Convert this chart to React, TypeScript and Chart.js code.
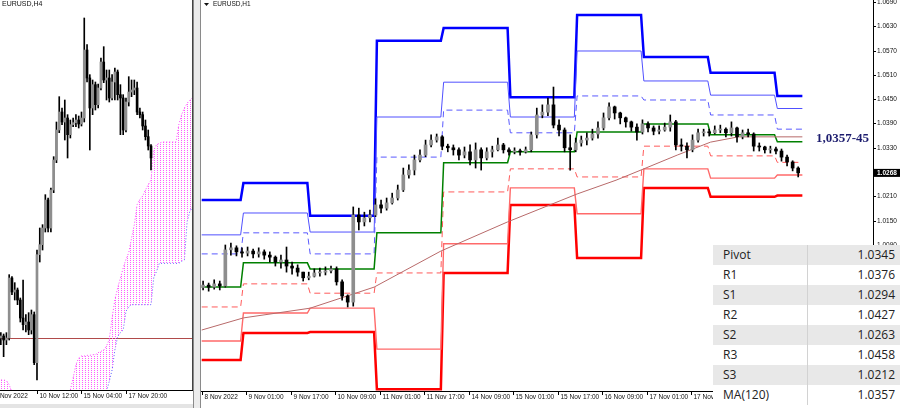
import React, { useEffect, useRef } from "react";
import { Chart, registerables } from "chart.js";

Chart.register(...registerables);

// ================= H1 chart (right panel) =================
const h1Title = "EURUSD,H1";
const h1CandleBars = 2; // each drawn candle spans two H1 bars
const h1FirstOpen = 0.9985;
const h1Close = [
  0.9991, 0.9986, 0.9994, 0.9989, 1.0078, 1.0083, 1.0073, 1.007, 1.0075, 1.0068,
  1.0073, 1.0065, 1.006, 1.0048, 1.0053, 1.0038, 1.0033, 1.0023, 1.0009, 1.0013,
  1.0021, 1.0023, 1.0026, 1.0031, 0.9999, 0.9964, 0.9949, 1.0164, 1.0147, 1.0157,
  1.0164, 1.0189, 1.0181, 1.0194, 1.0206, 1.0226, 1.0263, 1.0275, 1.03, 1.0312,
  1.0337, 1.0349, 1.0357, 1.0334, 1.033, 1.0325, 1.0312, 1.032, 1.03, 1.0325,
  1.0305, 1.032, 1.0325, 1.0337, 1.0325, 1.032, 1.0322, 1.032, 1.0325, 1.0362,
  1.0411, 1.0418, 1.0436, 1.0386, 1.0374, 1.033, 1.0325, 1.0342, 1.0349, 1.0354,
  1.0364, 1.0379, 1.0404, 1.0431, 1.0416, 1.0404, 1.0394, 1.0381, 1.0369, 1.0389,
  1.0379, 1.0371, 1.0374, 1.0381, 1.0394, 1.0337, 1.0334, 1.0325, 1.0349, 1.0367,
  1.0369, 1.0367, 1.0374, 1.0376, 1.0367, 1.0379, 1.0357, 1.0367, 1.0364, 1.0334,
  1.0332, 1.0325, 1.0327, 1.0322, 1.0307, 1.0295, 1.028, 1.0268,
];
const h1High = [
  1.0001, 0.9996, 1.0004, 1.0001, 1.009, 1.0095, 1.0088, 1.0083, 1.0085, 1.008,
  1.0083, 1.0078, 1.0073, 1.0063, 1.0065, 1.0085, 1.0048, 1.0041, 1.0023, 1.0023,
  1.0031, 1.0033, 1.0036, 1.0038, 1.0036, 1.0004, 0.9967, 1.0184, 1.0181, 1.0171,
  1.0176, 1.0204, 1.0201, 1.0206, 1.0218, 1.0238, 1.028, 1.0288, 1.0312, 1.0325,
  1.0349, 1.0362, 1.0364, 1.036, 1.0339, 1.0337, 1.033, 1.0332, 1.0337, 1.0342,
  1.033, 1.033, 1.0334, 1.0354, 1.0341, 1.033, 1.033, 1.0327, 1.0332, 1.0369,
  1.0428, 1.0436, 1.0453, 1.048, 1.0399, 1.0379, 1.0362, 1.0354, 1.0359, 1.0367,
  1.0376, 1.0394, 1.0416, 1.0441, 1.0433, 1.0418, 1.0406, 1.0396, 1.0389, 1.0399,
  1.0394, 1.0384, 1.0384, 1.0391, 1.0411, 1.0398, 1.0352, 1.0342, 1.0362, 1.0376,
  1.0376, 1.0376, 1.0384, 1.0386, 1.0379, 1.0394, 1.0381, 1.0374, 1.0376, 1.0367,
  1.0342, 1.0334, 1.0334, 1.0332, 1.0327, 1.0312, 1.0298, 1.0283,
];
const h1Low = [
  0.9979, 0.9976, 0.9981, 0.9979, 0.9986, 1.0065, 1.0063, 1.006, 1.0063, 1.0058,
  1.006, 1.0055, 1.0048, 1.0038, 1.0033, 1.0023, 1.0018, 1.0013, 1.0001, 1.0004,
  1.0011, 1.0013, 1.0016, 1.0021, 0.9991, 0.9954, 0.9937, 0.9939, 1.0127, 1.0137,
  1.0147, 1.016, 1.0169, 1.0176, 1.0191, 1.0201, 1.0222, 1.0255, 1.0263, 1.0295,
  1.0308, 1.0332, 1.0344, 1.0325, 1.032, 1.0312, 1.03, 1.0305, 1.0288, 1.028,
  1.0275, 1.03, 1.0307, 1.0322, 1.0317, 1.0312, 1.0315, 1.0312, 1.0317, 1.032,
  1.0354, 1.0404, 1.0409, 1.0379, 1.0359, 1.032, 1.0275, 1.032, 1.0334, 1.0337,
  1.0349, 1.0354, 1.0374, 1.0399, 1.0401, 1.0389, 1.0381, 1.0371, 1.0349, 1.0364,
  1.0369, 1.0362, 1.0364, 1.0371, 1.0371, 1.0325, 1.0322, 1.0305, 1.032, 1.0344,
  1.0359, 1.0359, 1.0364, 1.0367, 1.0357, 1.0359, 1.0344, 1.0352, 1.0357, 1.0322,
  1.0322, 1.0317, 1.0317, 1.0315, 1.0297, 1.0285, 1.0273, 1.0258,
];

// daily pivot levels (one value per trading day)
const dayStartBar = [0, 15, 39, 63, 87, 111, 135, 159, 183, 207];
const lastBar = 216;
const levelR3 = [1.0201, 1.0243, 1.0162, 1.0594, 1.0626, 1.0455, 1.0658, 1.0554, 1.0515, 1.0458];
const levelR2 = [1.0115, 1.0169, 1.0122, 1.0406, 1.0492, 1.0406, 1.0569, 1.0495, 1.046, 1.0427];
const levelR1 = [1.0068, 1.012, 1.0068, 1.0307, 1.0423, 1.0367, 1.0458, 1.0448, 1.0411, 1.0376];
const levelPivot = [0.9986, 1.0046, 1.0031, 1.012, 1.0293, 1.032, 1.0369, 1.0389, 1.0362, 1.0345];
const levelS1 = [0.9937, 0.9994, 0.9971, 1.0021, 1.0221, 1.0278, 1.0258, 1.0334, 1.031, 1.0294];
const levelS2 = [0.9853, 0.9922, 0.9934, 0.9833, 1.0093, 1.0231, 1.0167, 1.0278, 1.0255, 1.0263];
const levelS3 = [0.9806, 0.9873, 0.9875, 0.9734, 1.0021, 1.0189, 1.0058, 1.0231, 1.0209, 1.0212];

// MA(120)
const maBar = [0, 15, 39, 62, 86, 110, 135, 149, 159, 171, 183, 193, 206, 216];
const maValue = [0.988, 0.991, 0.9934, 0.9986, 1.0075, 1.0147, 1.0216, 1.025, 1.0278, 1.0312, 1.0344, 1.0357, 1.0357, 1.0357];

const h1TickBars = [0, 16, 32, 48, 64, 80, 96, 112, 128, 144, 160, 176, 192, 208];
const h1TickLabels = [
  "8 Nov 2022", "9 Nov 01:00", "9 Nov 17:00", "10 Nov 09:00", "11 Nov 01:00",
  "11 Nov 17:00", "14 Nov 09:00", "15 Nov 01:00", "15 Nov 17:00", "16 Nov 09:00",
  "17 Nov 01:00", "17 Nov 17:00", "18 Nov 09:00", "21 Nov 01:00",
];
const h1PriceTicks = [
  0.979, 0.985, 0.991, 0.997, 1.003, 1.009, 1.015, 1.021, 1.027, 1.033, 1.039,
  1.045, 1.051, 1.057, 1.063, 1.069,
];
const currentPrice = 1.0268;
const levelNote = "1,0357-45";
const levelNotePrice = 1.0357;

// table
const tableLabels = ["Pivot", "R1", "S1", "R2", "S2", "R3", "S3", "MA(120)"];
const tableValues = ["1.0345", "1.0376", "1.0294", "1.0427", "1.0263", "1.0458", "1.0212", "1.0357"];

// ================= H4 chart (left panel) =================
const h4Title = "EURUSD,H4";
const h4FirstBar = 3;
const h4FirstOpen = 1.0;
const h4Close = [
  1.0003, 0.9997, 1.0, 1.009, 1.0069, 1.0072, 1.0057, 1.003, 1.002, 1.0024,
  1.0012, 1.0035, 0.9963, 1.0125, 1.014, 1.0165, 1.0207, 1.0165, 1.0222, 1.0267,
  1.0312, 1.0339, 1.0324, 1.033, 1.0305, 1.032, 1.0323, 1.0327, 1.0321, 1.033,
  1.0432, 1.039, 1.0345, 1.038, 1.035, 1.0375, 1.0414, 1.0387, 1.039, 1.036,
  1.0384, 1.0399, 1.0365, 1.036, 1.0312, 1.0354, 1.0369, 1.0372, 1.0375, 1.0339,
  1.0335, 1.0318, 1.0302, 1.0288, 1.027,
];
const h4High = [
  1.0008, 1.0006, 1.0008, 1.0095, 1.0092, 1.0083, 1.0075, 1.006, 1.0087, 1.0035,
  1.0038, 1.0042, 1.0039, 1.0132, 1.0165, 1.017, 1.0215, 1.021, 1.0225, 1.0272,
  1.0324, 1.0362, 1.0345, 1.0357, 1.0335, 1.0327, 1.033, 1.0335, 1.0333, 1.0339,
  1.048, 1.044, 1.0395, 1.0387, 1.0384, 1.0381, 1.042, 1.0437, 1.0402, 1.0402,
  1.0395, 1.0405, 1.0402, 1.038, 1.0365, 1.036, 1.0392, 1.0387, 1.0387, 1.0384,
  1.0345, 1.0339, 1.0327, 1.0312, 1.029,
];
const h4Low = [
  0.999, 0.9972, 0.999, 0.9997, 1.0065, 1.0057, 1.005, 1.0024, 1.0012, 1.0009,
  1.0005, 1.0006, 0.996, 0.9937, 1.0114, 1.0132, 1.0159, 1.0159, 1.0159, 1.0218,
  1.0263, 1.0308, 1.032, 1.0297, 1.027, 1.03, 1.0317, 1.0317, 1.0315, 1.0318,
  1.0324, 1.0384, 1.0282, 1.0335, 1.0342, 1.0345, 1.0372, 1.0383, 1.0357, 1.0354,
  1.0357, 1.0357, 1.0357, 1.0305, 1.0305, 1.0309, 1.0348, 1.0362, 1.0365, 1.0335,
  1.033, 1.0312, 1.0297, 1.0282, 1.0252,
];
const h4TickBars = [0, 16, 32, 48];
const h4TickLabels = ["8 Nov 2022", "10 Nov 12:00", "15 Nov 04:00", "17 Nov 20:00"];
const parityLevel = 1.0;

// Ichimoku cloud (spans A / B), values from bar index start
const cloudSmallStart = 0;
const cloudSmallA = [0.9937, 0.9937, 0.9937, 0.9937, 0.9937, 0.9936, 0.993, 0.9918, 0.99];
const cloudSmallB = [0.988, 0.988, 0.988, 0.988, 0.988, 0.988, 0.988, 0.988, 0.988];
const cloudMainStart = 27;
const cloudMainA = [
  0.99, 0.9922, 0.994, 0.996, 0.997, 0.9973, 0.9973, 0.9974, 0.9974, 0.9975,
  0.9975, 0.9978, 0.998, 0.9982, 0.9988, 0.9998, 1.003, 1.0057, 1.0075, 1.009,
  1.0105, 1.0118, 1.0128, 1.015, 1.017, 1.02, 1.0208, 1.0213, 1.0222, 1.023,
  1.0237, 1.0282, 1.029, 1.0292, 1.0294, 1.0294, 1.0294, 1.0294, 1.0294, 1.0294,
  1.032, 1.0335, 1.0345, 1.0352, 1.0357, 1.0361, 1.0361,
];
const cloudMainB = [
  0.988, 0.988, 0.988, 0.988, 0.988, 0.988, 0.988, 0.988, 0.988, 0.988,
  0.988, 0.988, 0.988, 0.988, 0.992, 0.9935, 0.9952, 0.9982, 1.0002, 1.0008,
  1.0012, 1.004, 1.0047, 1.005, 1.005, 1.005, 1.005, 1.005, 1.005, 1.005,
  1.005, 1.0091, 1.01, 1.0112, 1.0112, 1.0112, 1.0112, 1.0112, 1.0112, 1.0112,
  1.0112, 1.0115, 1.0117, 1.0175, 1.019, 1.0197, 1.0197,
];

// ================= helpers =================
const BULL = "#8e8e8e";
const BEAR = "#000000";
const AXIS_FONT = '6.5px "Liberation Sans", Arial, sans-serif';

function buildCandles(firstX: number, step: number, firstOpen: number, close: number[], high: number[], low: number[]) {
  const bodies: any[] = [];
  const wicks: any[] = [];
  const colors: string[] = [];
  close.forEach((c, i) => {
    const o = i === 0 ? firstOpen : close[i - 1];
    const x = firstX + i * step;
    bodies.push({ x, y: [o, c] });
    wicks.push({ x, y: [low[i], high[i]] });
    colors.push(c >= o ? BULL : BEAR);
  });
  return { bodies, wicks, colors };
}

function stepLine(levels: number[]) {
  const pts: any[] = [];
  levels.forEach((v, d) => {
    const start = dayStartBar[d];
    const end = d + 1 < dayStartBar.length ? dayStartBar[d + 1] - 1 : lastBar;
    pts.push({ x: start, y: v }, { x: end, y: v });
  });
  return pts;
}

function series(start: number, values: number[]) {
  return values.map((v, i) => ({ x: start + i, y: v }));
}

function lineDs(data: any[], color: string, width: number, dash: number[] = []) {
  return {
    type: "line",
    data,
    borderColor: color,
    borderWidth: width,
    borderDash: dash,
    pointRadius: 0,
    tension: 0,
    fill: false,
    order: 1,
  };
}

function xAxisPlugin(tickBars: number[], tickLabels: string[]) {
  return {
    id: "mtXAxis",
    afterDraw(chart: any) {
      const { ctx, chartArea: a, scales } = chart;
      const x = scales.x;
      ctx.save();
      ctx.strokeStyle = "#000";
      ctx.lineWidth = 1;
      ctx.beginPath();
      ctx.moveTo(a.left, a.bottom + 0.5);
      ctx.lineTo(a.right, a.bottom + 0.5);
      ctx.stroke();
      ctx.font = AXIS_FONT;
      ctx.fillStyle = "#111";
      ctx.textAlign = "left";
      ctx.textBaseline = "top";
      tickBars.forEach((b, i) => {
        const px = Math.round(x.getPixelForValue(b)) + 0.5;
        ctx.beginPath();
        ctx.moveTo(px, a.bottom);
        ctx.lineTo(px, a.bottom + 4);
        ctx.stroke();
        ctx.fillText(tickLabels[i], px + 2, a.bottom + 3);
      });
      ctx.restore();
    },
  };
}

export default function App() {
  const leftRef = useRef<HTMLCanvasElement>(null);
  const rightRef = useRef<HTMLCanvasElement>(null);

  useEffect(() => {
    // ---------- left (H4) ----------
    const pc = document.createElement("canvas");
    pc.width = 3;
    pc.height = 2;
    const pctx = pc.getContext("2d")!;
    pctx.fillStyle = "#ff5cff";
    pctx.fillRect(1, 0, 1, 1);
    const lctx = leftRef.current!.getContext("2d")!;
    const cloudPattern = lctx.createPattern(pc, "repeat");

    const h4 = buildCandles(h4FirstBar, 1, h4FirstOpen, h4Close, h4High, h4Low);

    const leftDecor = {
      id: "leftDecor",
      beforeDatasetsDraw(chart: any) {
        const { ctx, chartArea: a, scales } = chart;
        const py = Math.round(scales.y.getPixelForValue(parityLevel)) + 0.5;
        ctx.save();
        ctx.strokeStyle = "#b04a4a";
        ctx.lineWidth = 1;
        ctx.beginPath();
        ctx.moveTo(a.left, py);
        ctx.lineTo(a.right, py);
        ctx.stroke();
        ctx.restore();
      },
      afterDraw(chart: any) {
        const { ctx, chartArea: a } = chart;
        ctx.save();
        ctx.font = '7px "Liberation Sans", Arial, sans-serif';
        ctx.fillStyle = "#111";
        ctx.textBaseline = "top";
        ctx.textAlign = "left";
        ctx.fillText(h4Title, 2, 1);
        ctx.strokeStyle = "#444";
        ctx.beginPath();
        ctx.moveTo(a.right - 0.5, 0);
        ctx.lineTo(a.right - 0.5, a.bottom + 1);
        ctx.stroke();
        ctx.restore();
      },
    };

    const left = new Chart(leftRef.current!, {
      type: "bar",
      data: {
        datasets: [
          { type: "bar", data: h4.bodies, backgroundColor: h4.colors, barThickness: 2, grouped: false, minBarLength: 1, order: 0 },
          { type: "bar", data: h4.wicks, backgroundColor: "#000", barThickness: 1, grouped: false, order: 0 },
          {
            ...lineDs(series(cloudMainStart, cloudMainA), "#ff40ff", 1, [1, 2]),
            fill: "+1",
            backgroundColor: cloudPattern,
            order: 2,
          },
          { ...lineDs(series(cloudMainStart, cloudMainB), "#5a5aff", 1, [1, 2]), order: 2 },
          {
            ...lineDs(series(cloudSmallStart, cloudSmallA), "#ff40ff", 1, [1, 2]),
            fill: "+1",
            backgroundColor: cloudPattern,
            order: 2,
          },
          { ...lineDs(series(cloudSmallStart, cloudSmallB), "#5a5aff", 1, [1, 2]), order: 2 },
        ] as any,
      },
      options: {
        responsive: false,
        animation: false,
        events: [],
        layout: { padding: { left: 0, right: 0, top: 0, bottom: 18 } },
        scales: {
          x: { type: "linear", min: 2.7, max: 72.1, display: false, offset: false },
          y: { type: "linear", min: 0.9922, max: 1.0507, display: false },
        },
        plugins: { legend: { display: false }, tooltip: { enabled: false } },
      } as any,
      plugins: [leftDecor, xAxisPlugin(h4TickBars, h4TickLabels)],
    });

    // ---------- right (H1) ----------
    const h1 = buildCandles(0.5, h1CandleBars, h1FirstOpen, h1Close, h1High, h1Low);
    const maData = maBar.map((b, i) => ({ x: b, y: maValue[i] }));

    const rightDecor = {
      id: "rightDecor",
      afterDraw(chart: any) {
        const { ctx, chartArea: a, scales } = chart;
        const y = scales.y;
        ctx.save();
        // price axis
        ctx.strokeStyle = "#000";
        ctx.lineWidth = 1;
        ctx.beginPath();
        ctx.moveTo(a.right + 0.5, 0);
        ctx.lineTo(a.right + 0.5, a.bottom + 1);
        ctx.stroke();
        ctx.font = AXIS_FONT;
        ctx.fillStyle = "#111";
        ctx.textAlign = "left";
        ctx.textBaseline = "middle";
        h1PriceTicks.forEach((p) => {
          const py = Math.round(y.getPixelForValue(p)) + 0.5;
          ctx.beginPath();
          ctx.moveTo(a.right, py);
          ctx.lineTo(a.right + 3, py);
          ctx.stroke();
          ctx.fillText(p.toFixed(4), a.right + 4, py);
        });
        // current price box
        const cy = y.getPixelForValue(currentPrice);
        ctx.fillStyle = "#000";
        ctx.fillRect(a.right + 1, cy - 4, 26, 8);
        ctx.fillStyle = "#fff";
        ctx.font = 'bold 6.5px "Liberation Sans", Arial, sans-serif';
        ctx.fillText(currentPrice.toFixed(4), a.right + 4, cy + 0.5);
        // title
        ctx.fillStyle = "#111";
        ctx.beginPath();
        ctx.moveTo(3, 3);
        ctx.lineTo(8, 3);
        ctx.lineTo(5.5, 6);
        ctx.closePath();
        ctx.fill();
        ctx.font = AXIS_FONT;
        ctx.textBaseline = "top";
        ctx.fillText(h1Title, 12, 1);
        // level note
        ctx.font = 'bold 13px "Liberation Serif", "Times New Roman", serif';
        ctx.fillStyle = "#1c1c6e";
        ctx.textBaseline = "middle";
        ctx.fillText(levelNote, a.right - 57, y.getPixelForValue(levelNotePrice) + 2);
        ctx.restore();
      },
    };

    const right = new Chart(rightRef.current!, {
      type: "bar",
      data: {
        datasets: [
          { type: "bar", data: h1.bodies, backgroundColor: h1.colors, barThickness: 3, grouped: false, minBarLength: 1, order: 0 },
          { type: "bar", data: h1.wicks, backgroundColor: "#000", barThickness: 1, grouped: false, order: 0 },
          lineDs(maData, "#b86a6a", 1),
          lineDs(stepLine(levelPivot), "#008000", 1.5),
          lineDs(stepLine(levelR1), "#5a5aff", 1, [6, 4]),
          lineDs(stepLine(levelS1), "#ff5a5a", 1, [6, 4]),
          lineDs(stepLine(levelR2), "#5050ff", 1),
          lineDs(stepLine(levelS2), "#ff6a6a", 1.4),
          lineDs(stepLine(levelR3), "#0000ff", 2.5),
          lineDs(stepLine(levelS3), "#ff0000", 2.5),
        ] as any,
      },
      options: {
        responsive: false,
        animation: false,
        events: [],
        layout: { padding: { left: 0, right: 27, top: 0, bottom: 17 } },
        scales: {
          x: { type: "linear", min: -0.25, max: 241.4, display: false, offset: false },
          y: { type: "linear", min: 0.97295, max: 1.06949, display: false },
        },
        plugins: { legend: { display: false }, tooltip: { enabled: false } },
      } as any,
      plugins: [rightDecor, xAxisPlugin(h1TickBars, h1TickLabels)],
    });

    return () => {
      left.destroy();
      right.destroy();
    };
  }, []);

  return (
    <div
      style={{
        position: "fixed",
        left: 0,
        top: 0,
        width: 900,
        height: 408,
        background: "#fff",
        overflow: "hidden",
      }}
    >
      <div style={{ position: "absolute", left: 0, top: 0, width: 193, height: 408 }}>
        <canvas ref={leftRef} width={193} height={408} style={{ width: 193, height: 408, display: "block" }} />
      </div>
      <div
        style={{
          position: "absolute",
          left: 193,
          top: 0,
          width: 6,
          height: 408,
          background: "#ececec",
          borderLeft: "1px solid #8a8a8a",
          borderRight: "1px solid #8a8a8a",
        }}
      />
      <div style={{ position: "absolute", left: 201, top: 0, width: 699, height: 408 }}>
        <canvas ref={rightRef} width={699} height={408} style={{ width: 699, height: 408, display: "block" }} />
      </div>
      <div style={{ position: "absolute", left: 0, top: 404, width: 193, height: 4, background: "#e4e4e4" }} />
      <div
        style={{
          position: "absolute",
          left: 713,
          top: 245,
          width: 187,
          fontFamily: '"Open Sans", "Noto Sans", sans-serif',
          fontSize: 12,
          color: "#222",
        }}
      >
        {tableLabels.map((label, i) => (
          <div
            key={label}
            style={{
              display: "flex",
              height: 20,
              lineHeight: "20px",
              background: i % 2 === 0 ? "#e8e8e8" : "#ffffff",
            }}
          >
            <div style={{ width: 84, paddingLeft: 10, borderRight: "1px solid #d2d2d2" }}>{label}</div>
            <div style={{ flex: 1, textAlign: "right", paddingRight: 5 }}>{tableValues[i]}</div>
          </div>
        ))}
      </div>
    </div>
  );
}
